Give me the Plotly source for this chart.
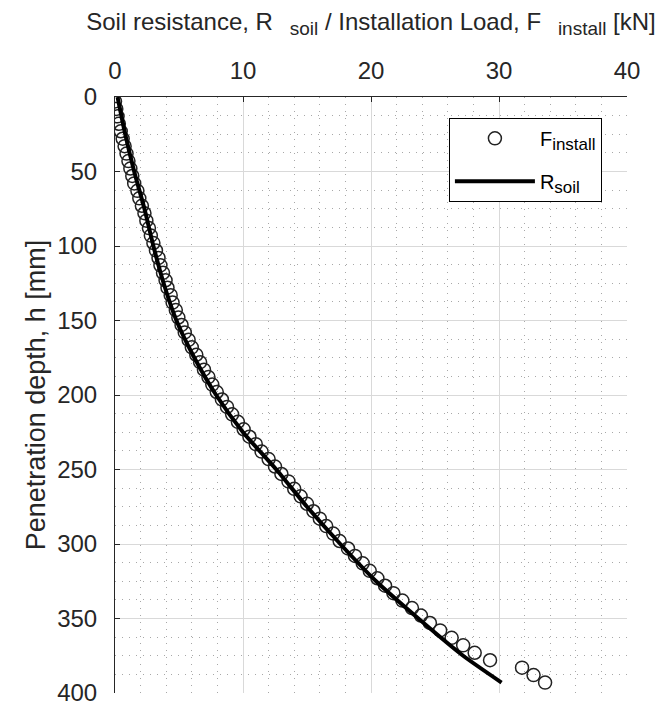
import plotly.graph_objects as go

# Measured installation load (circles)
h_install = [3, 8, 13, 18, 23, 28, 33, 38, 43, 48, 53, 58, 63, 68, 73, 78, 83, 88, 93, 98,
             103, 108, 113, 118, 123, 128, 133, 138, 143, 148, 153, 158, 163, 168, 173, 178,
             183, 188, 193, 198, 203, 208, 213, 218, 223, 228, 233, 238, 243, 248, 253, 258,
             263, 268, 273, 278, 283, 288, 293, 298, 303, 308, 313, 318, 323, 328, 333, 338,
             343, 348, 353, 358, 363, 368, 373, 378, 383, 388, 393]
F_install = [0.0, 0.1, 0.2, 0.3, 0.45, 0.6, 0.75, 0.9, 1.05, 1.2, 1.35, 1.5, 1.75, 1.9, 2.1,
             2.3, 2.45, 2.65, 2.8, 3.0, 3.2, 3.4, 3.55, 3.75, 3.95, 4.1, 4.35, 4.5, 4.75, 4.95,
             5.2, 5.45, 5.75, 6.0, 6.35, 6.65, 6.95, 7.3, 7.6, 7.95, 8.35, 8.75, 9.15, 9.6,
             10.05, 10.5, 11.0, 11.45, 12.0, 12.5, 13.0, 13.55, 14.0, 14.5, 15.0, 15.5, 16.0,
             16.5, 17.05, 17.55, 18.2, 18.75, 19.35, 19.9, 20.5, 21.1, 21.75, 22.45, 23.2,
             23.9, 24.6, 25.4, 26.3, 27.2, 28.1, 29.3, 31.8, 32.7, 33.6]

# Soil resistance model (line)
h_soil = [0, 25, 50, 75, 100, 125, 150, 175, 200, 225, 250, 275, 300, 325, 350, 375, 393]
R_soil = [0.2, 0.8, 1.5, 2.3, 3.0, 3.8, 4.8, 6.2, 7.9, 10.0, 12.6, 15.0, 17.6, 20.4, 23.7, 27.2, 30.2]

x_ticks = [0, 10, 20, 30, 40]
y_ticks = [0, 50, 100, 150, 200, 250, 300, 350, 400]

FONT = "Liberation Sans, Arial, Helvetica, sans-serif"
DARK = "#262626"


def sub(txt, size):
    return "<sub><span style='font-size:%dpx'>%s</span></sub>" % (size, txt)


x_title = ("Soil resistance, R\u2002\u2009" + sub("soil", 19) +
           " / Installation Load, F\u2002\u2009" + sub("install", 19) + " [kN]")

fig = go.Figure()
fig.add_trace(go.Scatter(
    x=F_install, y=h_install, mode="markers", name="F" + sub("install", 17),
    legendgroup="a",
    marker=dict(symbol="circle-open", size=13, color="#222222", line=dict(width=1.5, color="#222222")),
))
fig.add_trace(go.Scatter(
    x=R_soil, y=h_soil, mode="lines", name="R" + sub("soil", 17),
    legendgroup="b",
    line=dict(color="black", width=4, shape="spline", smoothing=0.6),
))

axis_common = dict(
    showline=True, linecolor=DARK, linewidth=1, mirror=False,
    ticks="inside", ticklen=5, tickcolor=DARK, tickwidth=1,
    showgrid=True, gridcolor="#d9d9d9", gridwidth=1,
    zeroline=False, ticklabeloverflow="allow", automargin=False,
    tickfont=dict(family=FONT, size=24, color=DARK),
)

fig.update_layout(
    width=669, height=708,
    margin=dict(l=115, r=42, t=97, b=15),
    paper_bgcolor="white", plot_bgcolor="white",
    font=dict(family=FONT, color=DARK),
    xaxis=dict(
        range=[0, 40], side="top", tickvals=x_ticks,
        minor=dict(dtick=2, showgrid=True, gridcolor="#a8a8a8", griddash="1px,6px", gridwidth=1, ticks=""),
        title=dict(text=x_title, font=dict(family=FONT, size=24, color=DARK), standoff=20),
        ticklabelstandoff=7,
        **axis_common,
    ),
    yaxis=dict(
        range=[400, 0], tickvals=y_ticks,
        minor=dict(dtick=12.5, showgrid=True, gridcolor="#a8a8a8", griddash="1px,6px", gridwidth=1, ticks=""),
        title=dict(text="Penetration depth, h [mm]", font=dict(family=FONT, size=27, color=DARK), standoff=3),
        ticklabelstandoff=12,
        **axis_common,
    ),
    legend=dict(
        x=0.951, xanchor="right", y=0.965, yanchor="top",
        bgcolor="white", bordercolor="black", borderwidth=1,
        font=dict(family=FONT, size=20, color="black"),
        itemwidth=80, tracegroupgap=14,
    ),
)

fig.write_html("out.html")
